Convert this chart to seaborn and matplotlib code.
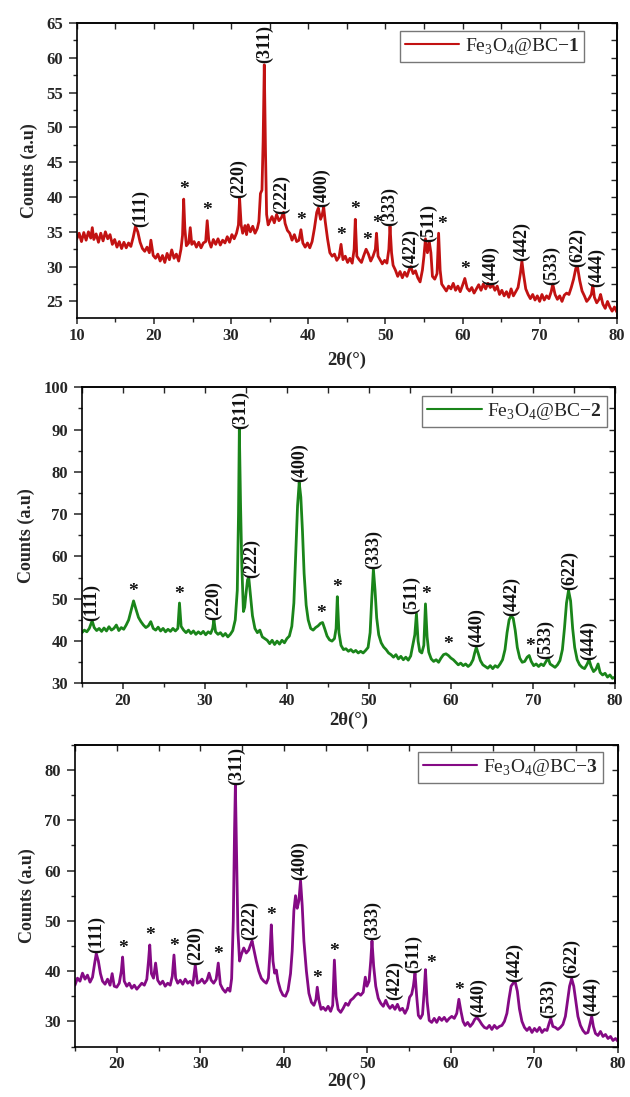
import matplotlib
matplotlib.use("Agg")
import matplotlib.pyplot as plt
import seaborn as sns
import pandas as pd
from matplotlib.ticker import MultipleLocator

# XRD traces: (2theta, counts)
trace_1 = [
    (10.0, 34.0), (10.3, 34.8), (10.6, 33.6), (10.9, 34.9), (11.2, 33.8), (11.5, 35.0), (11.8, 34.1), (12.0, 35.6),
    (12.2, 33.9), (12.5, 34.7), (12.8, 33.5), (13.1, 34.8), (13.4, 33.7), (13.7, 35.0), (14.0, 34.0), (14.3, 34.6),
    (14.6, 33.2), (14.9, 33.9), (15.2, 32.8), (15.5, 33.6), (15.8, 32.6), (16.1, 33.5), (16.4, 32.7), (16.7, 33.4),
    (17.0, 32.9), (17.3, 34.2), (17.6, 35.8), (17.9, 35.0), (18.2, 33.5), (18.5, 32.6), (18.8, 32.2), (19.1, 32.8),
    (19.4, 32.0), (19.6, 33.8), (19.9, 31.6), (20.2, 31.2), (20.5, 31.8), (20.8, 30.8), (21.1, 31.6), (21.4, 30.6),
    (21.7, 31.9), (22.0, 31.0), (22.3, 32.4), (22.6, 31.2), (22.9, 31.8), (23.2, 30.8), (23.5, 32.5), (23.7, 34.5),
    (23.85, 39.7), (24.0, 35.5), (24.2, 33.0), (24.5, 33.4), (24.7, 35.6), (24.9, 33.2), (25.2, 33.6), (25.5, 32.8),
    (25.8, 33.5), (26.1, 32.7), (26.4, 33.4), (26.7, 33.6), (26.9, 36.6), (27.1, 33.8), (27.4, 32.8), (27.7, 33.9),
    (28.0, 33.2), (28.3, 34.0), (28.6, 33.1), (28.9, 33.8), (29.2, 33.4), (29.5, 34.3), (29.8, 33.5), (30.1, 34.6),
    (30.4, 34.0), (30.7, 34.8), (30.95, 36.0), (31.1, 39.8), (31.3, 36.0), (31.5, 34.8), (31.8, 35.9), (32.0, 34.6),
    (32.2, 36.0), (32.5, 35.0), (32.8, 35.8), (33.1, 34.8), (33.4, 35.5), (33.6, 36.5), (33.8, 40.5), (34.0, 41.0),
    (34.15, 48.0), (34.3, 59.0), (34.45, 47.0), (34.6, 37.5), (34.8, 36.0), (35.0, 36.5), (35.3, 37.2), (35.6, 36.3),
    (35.9, 37.5), (36.2, 36.6), (36.5, 37.0), (36.8, 37.8), (37.0, 36.2), (37.3, 35.2), (37.6, 34.8), (37.9, 33.8),
    (38.2, 34.6), (38.5, 33.6), (38.8, 33.8), (39.05, 35.3), (39.3, 33.4), (39.6, 32.8), (39.9, 33.4), (40.2, 32.7),
    (40.5, 33.6), (40.8, 35.5), (41.1, 37.8), (41.3, 38.4), (41.6, 36.8), (41.8, 37.4), (42.0, 38.6), (42.2, 36.5),
    (42.5, 34.0), (42.8, 32.0), (43.1, 31.5), (43.4, 31.8), (43.7, 30.9), (44.0, 31.4), (44.25, 33.2), (44.5, 31.0),
    (44.8, 31.5), (45.1, 30.6), (45.4, 31.2), (45.7, 30.5), (45.95, 32.5), (46.1, 36.8), (46.3, 31.5), (46.6, 31.0),
    (46.9, 30.6), (47.2, 31.6), (47.5, 32.5), (47.8, 31.8), (48.1, 30.8), (48.4, 31.5), (48.7, 32.5), (48.85, 34.8),
    (49.05, 31.5), (49.3, 31.0), (49.6, 30.4), (49.9, 30.9), (50.2, 30.5), (50.45, 32.5), (50.6, 35.8), (50.8, 32.0),
    (51.0, 30.2), (51.3, 29.5), (51.6, 28.6), (51.9, 29.3), (52.2, 28.4), (52.5, 29.2), (52.8, 28.6), (53.1, 29.6),
    (53.3, 30.0), (53.6, 29.0), (53.9, 29.4), (54.2, 28.4), (54.5, 27.8), (54.8, 29.5), (55.0, 31.5), (55.2, 34.0),
    (55.45, 32.0), (55.7, 33.5), (55.9, 32.0), (56.1, 28.6), (56.4, 28.2), (56.7, 29.0), (56.9, 34.8), (57.1, 29.5),
    (57.3, 27.5), (57.6, 27.0), (57.9, 26.5), (58.2, 27.2), (58.5, 26.8), (58.8, 27.6), (59.1, 26.6), (59.4, 27.2),
    (59.7, 26.4), (60.0, 27.3), (60.3, 28.3), (60.6, 26.9), (60.9, 26.5), (61.2, 27.0), (61.5, 26.2), (61.8, 26.8),
    (62.1, 27.4), (62.4, 26.6), (62.7, 27.5), (63.0, 26.8), (63.3, 27.6), (63.6, 27.0), (63.9, 27.4), (64.2, 26.6),
    (64.5, 27.2), (64.8, 26.0), (65.1, 26.6), (65.4, 25.8), (65.7, 26.4), (66.0, 25.6), (66.3, 26.8), (66.6, 25.8),
    (66.9, 26.4), (67.2, 27.0), (67.5, 29.0), (67.7, 30.8), (67.9, 29.0), (68.2, 26.8), (68.5, 26.0), (68.8, 25.4),
    (69.1, 26.0), (69.4, 25.2), (69.7, 25.8), (70.0, 25.0), (70.3, 26.0), (70.6, 25.2), (70.9, 25.8), (71.2, 25.4),
    (71.5, 26.4), (71.7, 27.5), (72.0, 26.0), (72.3, 25.3), (72.6, 25.8), (72.9, 25.0), (73.2, 25.9), (73.5, 26.2),
    (73.8, 26.0), (74.1, 27.0), (74.4, 28.2), (74.7, 29.8), (74.9, 30.0), (75.2, 28.0), (75.5, 26.5), (75.8, 25.8),
    (76.1, 25.0), (76.4, 25.4), (76.7, 26.0), (76.9, 27.3), (77.1, 25.6), (77.4, 24.8), (77.7, 25.3), (77.9, 26.0),
    (78.2, 24.6), (78.5, 24.0), (78.8, 25.0), (79.1, 24.2), (79.4, 23.6), (79.7, 24.2), (80.0, 23.5),
]

trace_2 = [
    (15.0, 42.0), (15.3, 42.6), (15.6, 42.2), (15.9, 43.0), (16.1, 44.0), (16.25, 44.8), (16.5, 43.2), (16.8, 42.5),
    (17.1, 43.0), (17.4, 42.3), (17.7, 43.1), (18.0, 42.4), (18.3, 43.4), (18.6, 42.6), (18.9, 43.0), (19.2, 43.8),
    (19.5, 42.5), (19.8, 43.2), (20.1, 42.8), (20.4, 43.8), (20.7, 45.0), (21.0, 47.2), (21.3, 49.5), (21.6, 47.5),
    (21.9, 45.6), (22.2, 44.6), (22.5, 43.8), (22.8, 43.2), (23.1, 43.6), (23.4, 44.6), (23.7, 43.0), (24.0, 42.6),
    (24.3, 43.3), (24.6, 42.4), (24.9, 43.0), (25.2, 42.2), (25.5, 42.8), (25.8, 42.3), (26.1, 43.0), (26.4, 42.4),
    (26.7, 43.0), (26.9, 49.0), (27.1, 43.5), (27.4, 42.6), (27.7, 42.0), (28.0, 42.6), (28.3, 41.8), (28.6, 42.4),
    (28.9, 41.6), (29.2, 42.2), (29.5, 41.7), (29.8, 42.3), (30.1, 41.5), (30.4, 42.2), (30.7, 41.8), (30.95, 43.0),
    (31.1, 45.0), (31.3, 42.2), (31.6, 41.6), (31.9, 42.0), (32.2, 41.2), (32.5, 41.8), (32.8, 41.0), (33.1, 41.6),
    (33.4, 42.5), (33.7, 45.0), (33.95, 52.0), (34.1, 70.0), (34.2, 90.0), (34.35, 72.0), (34.5, 58.0), (34.7, 47.0),
    (34.85, 48.0), (35.0, 51.0), (35.2, 54.5), (35.35, 55.0), (35.55, 51.0), (35.8, 46.0), (36.1, 43.0), (36.4, 42.0),
    (36.7, 42.6), (37.0, 41.0), (37.3, 40.6), (37.6, 40.2), (37.9, 39.4), (38.2, 40.2), (38.5, 39.2), (38.8, 40.0),
    (39.1, 39.3), (39.4, 40.2), (39.7, 39.6), (40.0, 40.6), (40.3, 41.2), (40.6, 43.5), (40.85, 49.0), (41.1, 62.0),
    (41.3, 72.0), (41.5, 77.5), (41.7, 74.0), (41.9, 66.0), (42.1, 56.0), (42.35, 48.5), (42.6, 45.0), (42.9, 43.0),
    (43.2, 42.6), (43.5, 43.2), (43.8, 43.6), (44.1, 44.2), (44.35, 44.4), (44.6, 43.0), (44.9, 41.2), (45.2, 40.3),
    (45.5, 40.0), (45.8, 40.6), (46.0, 43.0), (46.15, 50.5), (46.35, 42.0), (46.6, 39.0), (46.9, 38.0), (47.2, 38.2),
    (47.5, 37.6), (47.8, 38.0), (48.1, 37.4), (48.4, 37.8), (48.7, 37.2), (49.0, 37.6), (49.3, 37.2), (49.6, 37.8),
    (49.9, 38.5), (50.15, 42.0), (50.35, 50.0), (50.55, 57.0), (50.75, 52.0), (50.95, 45.5), (51.2, 41.5), (51.5, 39.6),
    (51.8, 38.6), (52.1, 38.0), (52.4, 37.2), (52.7, 36.8), (53.0, 36.2), (53.3, 36.8), (53.6, 35.8), (53.9, 36.4),
    (54.2, 35.6), (54.5, 36.2), (54.8, 35.5), (55.1, 36.5), (55.4, 39.5), (55.6, 41.5), (55.8, 46.5), (56.0, 40.0),
    (56.2, 37.6), (56.45, 37.2), (56.7, 39.0), (56.9, 48.8), (57.1, 41.0), (57.3, 37.4), (57.6, 35.8), (57.9, 35.2),
    (58.2, 35.6), (58.5, 35.0), (58.8, 36.0), (59.1, 36.8), (59.4, 37.0), (59.7, 36.6), (60.0, 36.0), (60.3, 35.6),
    (60.6, 35.0), (60.9, 34.4), (61.2, 34.8), (61.5, 34.2), (61.8, 34.6), (62.1, 34.0), (62.4, 34.5), (62.7, 35.6),
    (62.9, 37.2), (63.1, 38.5), (63.35, 37.0), (63.6, 35.4), (63.9, 34.4), (64.2, 34.0), (64.5, 33.6), (64.8, 34.2),
    (65.1, 33.5), (65.4, 34.2), (65.7, 33.8), (66.0, 34.6), (66.3, 35.6), (66.6, 38.0), (66.85, 42.0), (67.1, 45.0),
    (67.35, 46.0), (67.6, 45.4), (67.85, 42.5), (68.1, 38.5), (68.4, 36.0), (68.7, 35.0), (69.0, 35.2), (69.3, 36.2),
    (69.55, 36.6), (69.8, 35.2), (70.1, 34.2), (70.4, 34.6), (70.7, 34.0), (71.0, 34.6), (71.3, 34.2), (71.6, 35.2),
    (71.85, 36.0), (72.1, 34.6), (72.4, 34.2), (72.7, 33.8), (73.0, 34.4), (73.3, 35.4), (73.6, 38.0), (73.85, 43.0),
    (74.1, 49.0), (74.35, 52.0), (74.6, 49.5), (74.85, 43.0), (75.1, 38.5), (75.4, 35.6), (75.7, 34.4), (76.0, 33.8),
    (76.3, 33.5), (76.6, 34.5), (76.85, 35.6), (77.1, 34.0), (77.4, 32.8), (77.7, 33.4), (77.95, 34.6), (78.2, 32.6),
    (78.5, 32.0), (78.8, 32.4), (79.1, 31.5), (79.4, 32.0), (79.7, 31.2), (80.0, 31.5),
]

trace_3 = [
    (15.0, 37.2), (15.3, 38.6), (15.6, 38.0), (15.9, 39.6), (16.2, 38.4), (16.5, 39.2), (16.8, 37.8), (17.1, 38.8),
    (17.35, 41.5), (17.55, 43.5), (17.8, 42.0), (18.05, 39.5), (18.3, 38.0), (18.6, 37.4), (18.9, 38.4), (19.2, 37.2),
    (19.45, 39.5), (19.7, 37.0), (20.0, 36.8), (20.3, 37.6), (20.55, 40.0), (20.7, 42.8), (20.9, 38.0), (21.2, 37.0),
    (21.5, 37.6), (21.8, 36.6), (22.1, 37.2), (22.4, 36.4), (22.7, 37.0), (23.0, 37.6), (23.3, 37.2), (23.6, 38.4),
    (23.8, 42.0), (23.95, 45.2), (24.15, 39.5), (24.4, 38.6), (24.65, 41.6), (24.9, 38.2), (25.2, 37.4), (25.5, 38.0),
    (25.8, 37.0), (26.1, 37.6), (26.4, 37.2), (26.65, 39.0), (26.85, 43.2), (27.05, 38.6), (27.3, 37.6), (27.6, 38.2),
    (27.9, 37.4), (28.2, 38.4), (28.5, 37.6), (28.8, 38.0), (29.1, 37.2), (29.4, 41.2), (29.65, 37.6), (29.9, 37.8),
    (30.2, 38.4), (30.5, 37.6), (30.8, 38.2), (31.05, 39.6), (31.3, 38.2), (31.6, 37.6), (31.9, 38.4), (32.15, 41.6),
    (32.4, 37.4), (32.7, 36.4), (33.0, 35.8), (33.3, 36.6), (33.55, 36.0), (33.75, 38.5), (33.95, 50.0), (34.1, 68.0),
    (34.2, 77.0), (34.35, 62.0), (34.5, 48.0), (34.7, 42.0), (34.95, 43.5), (35.2, 44.6), (35.5, 43.6), (35.8, 44.2),
    (36.0, 45.2), (36.2, 46.0), (36.45, 44.0), (36.7, 42.0), (37.0, 40.0), (37.3, 38.6), (37.6, 38.0), (37.9, 37.6),
    (38.15, 38.6), (38.35, 44.0), (38.5, 49.2), (38.7, 42.0), (38.9, 39.6), (39.1, 40.2), (39.3, 38.0), (39.6, 36.2),
    (39.9, 35.2), (40.2, 35.0), (40.5, 36.2), (40.8, 39.5), (41.0, 44.0), (41.2, 52.0), (41.4, 55.0), (41.6, 52.5),
    (41.8, 54.0), (42.0, 58.0), (42.2, 53.0), (42.4, 46.0), (42.7, 40.0), (43.0, 35.6), (43.3, 33.8), (43.6, 33.2),
    (43.85, 34.4), (44.0, 36.8), (44.2, 34.2), (44.45, 32.4), (44.7, 32.8), (45.0, 32.2), (45.3, 33.0), (45.6, 32.0),
    (45.85, 33.2), (46.05, 42.2), (46.25, 35.0), (46.5, 32.4), (46.8, 31.8), (47.1, 32.6), (47.4, 33.6), (47.7, 33.2),
    (48.0, 34.2), (48.3, 34.6), (48.6, 35.2), (48.9, 35.6), (49.2, 35.2), (49.5, 35.8), (49.75, 38.8), (49.95, 37.0),
    (50.2, 38.0), (50.4, 42.0), (50.55, 46.0), (50.75, 41.0), (51.0, 37.0), (51.3, 34.6), (51.6, 33.6), (51.9, 33.0),
    (52.2, 34.2), (52.45, 33.2), (52.7, 32.6), (53.0, 33.2), (53.3, 32.4), (53.6, 33.4), (53.9, 32.2), (54.2, 32.6),
    (54.5, 31.6), (54.8, 32.6), (55.05, 34.8), (55.3, 35.4), (55.5, 37.0), (55.7, 39.6), (55.9, 35.0), (56.1, 31.2),
    (56.35, 30.6), (56.6, 31.4), (56.8, 36.0), (56.95, 40.3), (57.15, 34.0), (57.4, 30.2), (57.7, 29.8), (58.0, 30.6),
    (58.3, 29.8), (58.6, 30.8), (58.9, 30.2), (59.2, 30.8), (59.5, 30.0), (59.8, 30.6), (60.1, 31.0), (60.4, 30.6),
    (60.7, 31.6), (60.95, 34.4), (61.2, 32.0), (61.45, 30.0), (61.7, 29.2), (62.0, 29.8), (62.3, 29.0), (62.6, 29.6),
    (62.85, 30.4), (63.1, 30.8), (63.4, 30.2), (63.7, 29.4), (64.0, 28.8), (64.3, 28.6), (64.6, 29.2), (64.9, 28.4),
    (65.2, 29.2), (65.5, 28.6), (65.8, 29.0), (66.1, 29.2), (66.4, 30.0), (66.7, 31.6), (66.95, 34.5), (67.2, 37.0),
    (67.45, 37.6), (67.7, 37.8), (67.95, 36.0), (68.2, 32.5), (68.5, 30.0), (68.8, 28.8), (69.1, 28.2), (69.4, 28.8),
    (69.7, 27.8), (70.0, 28.6), (70.3, 28.0), (70.6, 28.8), (70.9, 27.8), (71.2, 28.4), (71.5, 28.2), (71.75, 29.6),
    (71.95, 30.6), (72.2, 29.0), (72.5, 28.8), (72.8, 28.4), (73.1, 28.8), (73.4, 29.4), (73.7, 31.0), (73.95, 34.0),
    (74.2, 37.0), (74.45, 38.5), (74.7, 37.0), (74.95, 34.0), (75.2, 31.0), (75.5, 29.2), (75.8, 28.2), (76.1, 27.6),
    (76.4, 27.8), (76.65, 29.5), (76.85, 31.0), (77.05, 29.0), (77.3, 27.6), (77.6, 27.2), (77.9, 28.0), (78.2, 27.0),
    (78.5, 27.4), (78.8, 26.6), (79.1, 27.0), (79.4, 26.2), (79.7, 26.6), (80.0, 26.0),
]

# Miller index labels: (text, 2theta, counts at label base)
hkl_1 = [("(111)", 18.2, 35.7), ("(220)", 31.0, 39.9), ("(311)", 34.3, 59.2), ("(222)", 36.6, 37.6),
         ("(400)", 41.7, 38.6), ("(333)", 50.6, 35.8), ("(422)", 53.3, 29.8), ("(511)", 55.6, 33.6),
         ("(440)", 63.6, 27.4), ("(442)", 67.7, 30.8), ("(533)", 71.6, 27.4), ("(622)", 74.9, 29.9),
         ("(444)", 77.4, 27.1)]
star_1 = [(23.85, 39.9), (26.9, 36.8), (39.1, 35.4), (44.25, 33.3), (46.1, 37.0),
          (47.6, 32.6), (48.9, 35.0), (57.3, 34.9), (60.3, 28.4)]

hkl_2 = [("(111)", 16.2, 44.8), ("(220)", 31.0, 45.0), ("(311)", 34.3, 90.2), ("(222)", 35.7, 55.0),
         ("(400)", 41.5, 77.6), ("(333)", 50.6, 57.0), ("(511)", 55.2, 46.5), ("(440)", 63.1, 38.6),
         ("(442)", 67.4, 46.0), ("(533)", 71.5, 35.8), ("(622)", 74.5, 52.0), ("(444)", 76.8, 35.6)]
star_2 = [(21.3, 49.6), (26.9, 49.1), (44.2, 44.5), (46.15, 50.6), (57.0, 48.9),
          (59.6, 37.1), (69.6, 36.7)]

hkl_3 = [("(111)", 17.6, 43.6), ("(220)", 29.4, 41.3), ("(311)", 34.3, 77.1), ("(222)", 35.9, 46.1),
         ("(400)", 41.9, 58.1), ("(333)", 50.6, 46.1), ("(422)", 53.3, 34.3), ("(511)", 55.5, 39.7),
         ("(440)", 63.3, 30.9), ("(442)", 67.6, 37.9), ("(533)", 71.7, 30.7), ("(622)", 74.5, 38.6),
         ("(444)", 76.8, 31.1)]
star_3 = [(20.7, 42.9), (23.95, 45.3), (26.85, 43.3), (32.15, 41.7), (38.5, 49.3), (44.0, 36.9),
          (46.05, 42.3), (57.6, 39.8), (60.95, 34.5)]

samples = ["1", "2", "3"]
colors = ["#c21212", "#1a851a", "#850a85"]

sns.set_theme(style="ticks")
plt.rcParams["font.family"] = ["Liberation Serif", "DejaVu Serif"]
plt.rcParams["mathtext.fontset"] = "custom"
plt.rcParams["mathtext.rm"] = "Liberation Serif"
plt.rcParams["mathtext.bf"] = "Liberation Serif:bold"

fig = plt.figure(figsize=(6.3, 10.97), dpi=100)
axes = [fig.add_axes([0.122, 0.710, 0.857, 0.269]),
        fig.add_axes([0.130, 0.377, 0.846, 0.270]),
        fig.add_axes([0.119, 0.046, 0.862, 0.275])]

panels = [
    (trace_1, hkl_1, star_1, (10, 80), (22.6, 65), 5, 2.5, (0.940, 0.973), 6),
    (trace_2, hkl_2, star_2, (15, 80), (30, 100), 10, 5, (0.985, 0.970), 2),
    (trace_3, hkl_3, star_3, (15, 80), (25, 85), 10, 5, (0.972, 0.977), 0),
]

for ax, (trace, hkl, stars, xlim, ylim, ymaj, ymin, anchor, xpad), sample, color in zip(axes, panels, samples, colors):
    df = pd.DataFrame(trace, columns=["two_theta", "counts"])
    label = "Fe$_3$O$_4$@BC$-$$\\mathbf{" + sample + "}$"
    sns.lineplot(data=df, x="two_theta", y="counts", ax=ax, color=color, lw=2.0,
                 label=label, estimator=None)
    for text, x, y in hkl:
        ax.text(x, y, text, rotation=90, ha="center", va="bottom", fontsize=13,
                fontweight="bold", color="#111111")
    for x, y in stars:
        ax.text(x, y, "*", ha="center", va="bottom", fontsize=14, fontweight="bold", color="#111111")

    ax.set_xlim(*xlim)
    ax.set_ylim(*ylim)
    ax.xaxis.set_major_locator(MultipleLocator(10))
    ax.xaxis.set_minor_locator(MultipleLocator(5))
    ax.yaxis.set_major_locator(MultipleLocator(ymaj))
    ax.yaxis.set_minor_locator(MultipleLocator(ymin))
    ax.tick_params(which="major", direction="out", length=4, width=1.1, labelsize=12, pad=3)
    ax.tick_params(axis="y", which="major", length=6, pad=4)
    ax.tick_params(which="minor", direction="out", length=3, width=1.0)
    for lab in ax.get_xticklabels() + ax.get_yticklabels():
        lab.set_fontweight("bold")

    top = ax.secondary_xaxis("top")
    top.xaxis.set_major_locator(MultipleLocator(5))
    top.tick_params(direction="in", length=4, width=1.0, labeltop=False)
    right = ax.secondary_yaxis("right")
    right.yaxis.set_major_locator(MultipleLocator(ymin))
    right.tick_params(direction="in", length=4, width=1.0, labelright=False)
    for sec in (top, right):
        for sp in sec.spines.values():
            sp.set_linewidth(1.2)

    for sp in ax.spines.values():
        sp.set_visible(True)
        sp.set_linewidth(1.2)
        sp.set_color("black")

    ax.set_xlabel("2θ(°)", fontsize=13.5, fontweight="bold", labelpad=xpad)
    ax.set_ylabel("Counts (a.u)", fontsize=13, fontweight="bold", labelpad=6)

    leg = ax.legend(loc="upper right", bbox_to_anchor=anchor, fontsize=14, frameon=True,
                    fancybox=False, edgecolor="#555555", handlelength=2.8, borderpad=0.25,
                    handletextpad=0.3, borderaxespad=0.0)
    leg.get_frame().set_linewidth(1.0)
    for line in leg.get_lines():
        line.set_linewidth(1.5)

fig.savefig("out.png", dpi=100)
